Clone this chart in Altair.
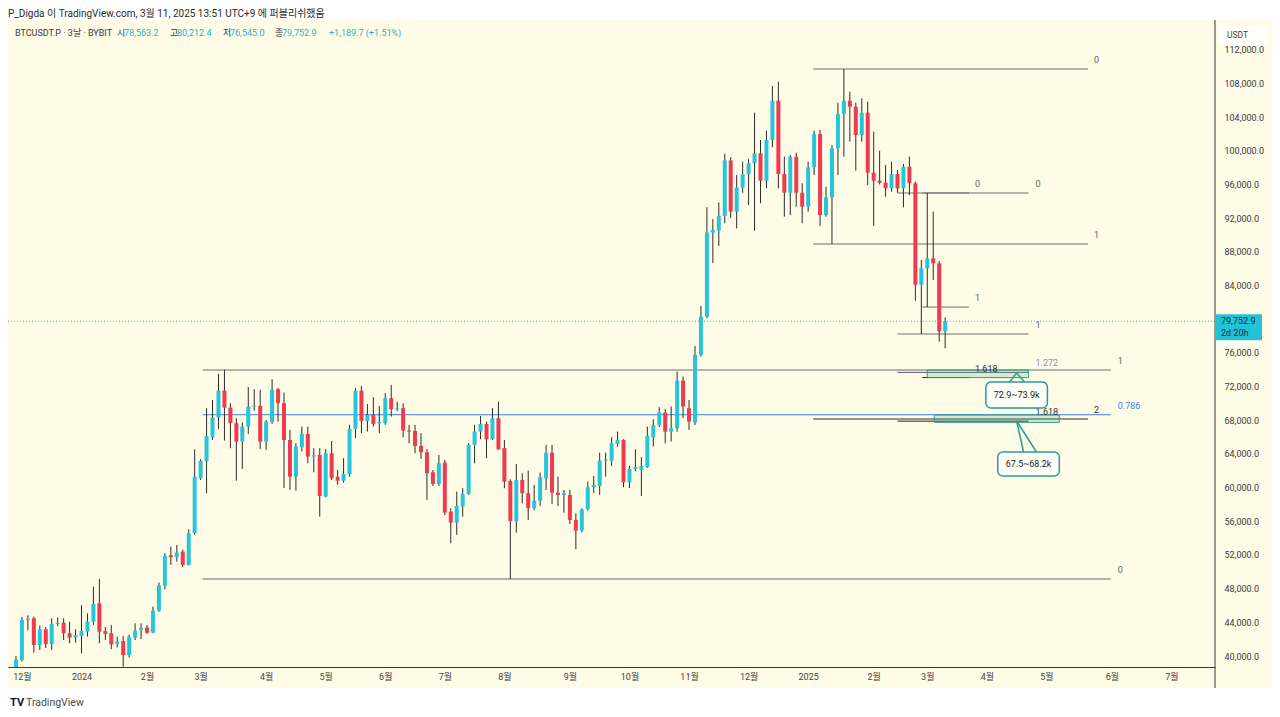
import altair as alt
import pandas as pd

# ---------------- data ----------------
BAR_START = "2023-11-29"  # open time of the first 3-day bar

opens = [37720, 39520, 44280, 44480, 41310, 43170, 41430, 43800, 43960, 42700,
         42180, 42380, 42890, 44080, 46260, 42950, 42700, 41430, 41780, 40120,
         42180, 43090, 43370, 42770, 45390, 48350, 51960, 51720, 52400, 50810,
         54580, 61100, 63160, 65980, 68350, 71520, 69500, 67650, 65470, 67250,
         69630, 69710, 65470, 67770, 71680, 70020, 65660, 61300, 64790, 66380,
         63690, 63880, 58930, 64080, 61300, 60820, 61580, 66970, 71520, 67920,
         68630, 67640, 67640, 70610, 69310, 69430, 66770, 66730, 64950, 64200,
         61820, 60430, 62970, 57150, 55840, 57740, 59250, 65070, 66650, 67560,
         65740, 68240, 64680, 60790, 56040, 60910, 59330, 57550, 58450, 61100,
         64140, 59400, 59130, 59130, 56160, 54890, 57430, 60040, 60200, 63200,
         63200, 65190, 65660, 60630, 62210, 62100, 62440, 65980, 67450, 68910,
         66650, 67050, 72710, 69430, 67720, 75760, 80310, 90290, 90530, 92280,
         98850, 92790, 95620, 97200, 98510, 99700, 96450, 101280, 105950, 97240,
         95020, 99300, 95020, 93360, 98040, 101990, 92370, 94470, 100290, 104370,
         105950, 105240, 101870, 104520, 97400, 96450, 96210, 95540, 97240, 95540,
         98110, 96140, 84100, 86040, 87230, 86640, 78563.2]
highs = [40000, 44640, 44840, 44670, 43600, 43440, 44480, 44560, 44480, 44080,
         43170, 46060, 45070, 48240, 49150, 43440, 43680, 42300, 42380, 42540,
         43880, 43880, 43680, 45860, 48710, 52200, 52990, 53190, 52640, 55050,
         64560, 63370, 69430, 70410, 73500, 73980, 70020, 68240, 67730, 71930,
         71690, 71600, 68040, 72870, 71840, 71280, 66850, 65270, 67250, 67250,
         64680, 64680, 64560, 65540, 62090, 63490, 67450, 71800, 72080, 69940,
         70730, 69700, 71200, 72200, 70220, 70020, 67450, 67450, 66460, 64560,
         62090, 63880, 63290, 57550, 59520, 59920, 65270, 67450, 68510, 67840,
         69430, 70220, 65660, 60990, 62810, 61700, 62010, 60320, 61780, 65070,
         65070, 61300, 59720, 59720, 56950, 57550, 60710, 61390, 64160, 64160,
         65980, 66650, 65740, 62570, 64560, 63610, 67250, 68120, 69550, 69310,
         69630, 73780, 73190, 70410, 76830, 81580, 93310, 91880, 93860, 99640,
         99240, 97120, 98700, 99000, 104520, 101280, 102390, 107690, 108200, 99300,
         99500, 99770, 96140, 98700, 102390, 102470, 95730, 100690, 105710, 109710,
         107020, 105710, 106230, 105830, 102270, 100010, 98310, 98700, 97720, 98430,
         99300, 96340, 87030, 94985, 92770, 86900, 80212.4]
lows = [37600, 39340, 43040, 40390, 40715, 40960, 40715, 43540, 41900, 41510,
        41590, 40320, 42300, 43700, 41510, 41900, 40800, 41030, 38740, 39840,
        41900, 42020, 42620, 42700, 45240, 47920, 50810, 51200, 50570, 50730,
        54380, 60910, 59330, 65660, 66970, 65580, 64680, 60820, 62220, 66380,
        69140, 64560, 64480, 67560, 67840, 59940, 59720, 59640, 64280, 62890,
        61820, 56550, 58860, 60910, 60340, 60590, 61300, 65870, 66460, 66660,
        67250, 66460, 67450, 68430, 69100, 65980, 65270, 64080, 63410, 58540,
        60190, 60190, 56750, 53400, 54380, 56550, 59130, 62890, 65740, 63490,
        65660, 64480, 59920, 49150, 54650, 58140, 56160, 57310, 57820, 59720,
        58060, 57820, 57020, 55680, 52680, 54690, 57270, 59330, 59130, 61300,
        62570, 64870, 60040, 59940, 61940, 59010, 62340, 64870, 67200, 65270,
        65470, 66640, 68240, 66850, 67440, 75560, 80120, 86660, 88710, 91400,
        92040, 90790, 95000, 93560, 90510, 93760, 95540, 100410, 95540, 92170,
        92370, 93360, 91390, 92770, 97120, 91070, 92170, 88930, 97120, 99300,
        101080, 97640, 101080, 95940, 91070, 96000, 94550, 95140, 95020, 93290,
        94750, 82200, 78240, 81440, 84650, 77330, 76545.0]
closes = [39600, 44280, 44430, 41310, 43170, 41430, 43800, 43940, 42700, 42180,
          42500, 42970, 44080, 46180, 42890, 42620, 41390, 41700, 40120, 42300,
          43010, 43370, 42770, 45390, 48400, 51880, 51720, 52280, 50810, 54580,
          61300, 63160, 66140, 68350, 71520, 69500, 67650, 65470, 67250, 69630,
          69750, 65470, 67840, 71600, 70020, 65660, 61300, 64870, 66380, 63690,
          63840, 59010, 64080, 61100, 60820, 61620, 66970, 71520, 67920, 68630,
          67560, 67780, 70610, 69310, 69430, 66770, 66650, 64950, 64200, 61700,
          60430, 62890, 57030, 55840, 57820, 59250, 65070, 66650, 67560, 65740,
          68240, 64560, 60710, 56040, 60910, 59330, 57550, 58450, 61230, 64140,
          59400, 59130, 59330, 56160, 54890, 57430, 60040, 60320, 63200, 63320,
          65270, 65660, 60630, 62210, 62440, 62570, 66140, 67450, 68910, 66650,
          67050, 72710, 69630, 67840, 75760, 80310, 90290, 90610, 92280, 98850,
          92790, 95620, 97200, 98510, 99700, 96450, 101280, 105950, 97240, 95020,
          99300, 95020, 93360, 98040, 101990, 92370, 94470, 100290, 104370, 105950,
          105240, 101870, 104520, 97400, 96450, 96210, 95540, 97240, 95540, 98110,
          96140, 84100, 86040, 87230, 86640, 78563.2, 79752.9]

price_change = "+1,189.7 (+1.51%)"
time_left = "2d 20h"

# Fibonacci tools: anchor prices (level 0 and level 1), levels shown, time span
fib_start = ["2024-03-02", "2025-01-03T14:00", "2025-02-15", "2025-02-27T12:00"]
fib_end = ["2025-06-02T10:00", "2025-05-22", "2025-04-22", "2025-03-23"]
fib_label_at = ["2025-06-05T22:00", "2025-05-25", "2025-04-25T12:00", "2025-03-26"]
fib_p0 = [49145, 109712, 94985, 94985]
fib_p1 = [73965, 88929, 78240, 81440]
fib_levels = [[0, 0.786, 1], [0, 1, 2], [0, 1, 1.272, 1.618], [0, 1, 1.618]]

# target zones and their callouts
zone_start = ["2025-03-02", "2025-03-05T12:00"]
zone_end = ["2025-04-22", "2025-05-07T12:00"]
zone_top = [73965, 68620]
zone_bottom = [73060, 67750]
zone_text = ["72.9~73.9k", "67.5~68.2k"]
callout_left = ["2025-03-31T12:00", "2025-04-06T12:00"]
callout_right = ["2025-05-01T12:00", "2025-05-07T12:00"]
callout_mid = ["2025-04-16", "2025-04-22"]
callout_top = [72540, 64227]
callout_bottom = [69452, 61377]
tail_apex_t = ["2025-04-16", "2025-04-16"]
tail_apex_p = [73609, 67909]
tail_base_l = ["2025-04-12T12:00", "2025-04-19T12:00"]
tail_base_r = ["2025-04-20", "2025-04-26"]

# price-axis labels visible in the reference (80,000 is hidden by the price tag)
y_ticks = [40000, 44000, 48000, 52000, 56000, 60000, 64000, 68000, 72000, 76000,
           84000, 88000, 92000, 96000, 100000, 104000, 108000, 112000]

# ---------------- layout / style ----------------
PLOT_W, PLOT_H = 1207, 647
PX_PER_DAY = 2.002
DAY = 86400000
Y_LO, Y_HI = 38694, 115531
UP, DOWN, WICK = "#26c6da", "#ef3b4f", "#2b2b2b"
BG = "#fefbe7"
TEAL = "#2a9d8f"
FONT = "Roboto, 'Noto Sans CJK KR', sans-serif"


def ms(s):
    return int(pd.Timestamp(s).value // 10**6)


bar_times = pd.date_range(BAR_START, periods=len(opens), freq="3D")
candles = pd.DataFrame({
    "t": [ms(d) for d in bar_times],
    "o": opens, "h": highs, "l": lows, "c": closes,
})
candles["dir"] = ["up" if c >= o else "down" for o, c in zip(opens, closes)]

x_lo = ms(BAR_START) - 3 / PX_PER_DAY * DAY
x_hi = x_lo + PLOT_W / PX_PER_DAY * DAY
xs = alt.Scale(type="utc", domain=[x_lo, x_hi], nice=False)
ys = alt.Scale(domain=[Y_LO, Y_HI], zero=False, nice=False)

# month ticks at the first bar of each month
tick_vals, seen = [], set()
for d in pd.date_range(BAR_START, "2025-07-31", freq="3D"):
    key = (d.year, d.month)
    if key in seen:
        continue
    seen.add(key)
    if key == (2023, 11):
        continue
    tick_vals.append(ms(d))

XA = alt.Axis(
    values=tick_vals,
    labelExpr="utcmonth(datum.value) == 0 ? utcFormat(datum.value, '%Y') : (utcmonth(datum.value) + 1) + '월'",
    grid=False, ticks=False, domain=True, domainColor="#3a3a3a", domainWidth=1,
    labelColor="#444", labelFontSize=9, labelFont=FONT, labelPadding=5,
    labelFlush=False, labelOverlap=False, title=None, zindex=2,
)
YA = alt.Axis(
    values=y_ticks, format=",.1f", orient="right", grid=False, ticks=False,
    domain=False, labelColor="#3a3a3a", labelFontSize=9, labelFont=FONT,
    labelPadding=9, title=None, zindex=2,
)


def X(field):
    return alt.X(field, scale=xs, axis=XA)


def Y(field):
    return alt.Y(field, scale=ys, axis=YA)


one = pd.DataFrame({"k": [0]})

# background pane
bg = alt.Chart(one).mark_rect(color=BG).encode(
    x=alt.value(0), x2=alt.value(1264), y=alt.value(0), y2=alt.value(668))

# fib lines
LINE_COL = {0: "#6e6e6e", 1: "#6e6e6e", 2: "#2e2e2e", 0.786: "#3f7fe0",
            1.272: "#55556a", 1.618: "#1e1e1e"}
TEXT_COL = {0: "#666666", 1: "#666666", 2: "#333333", 0.786: "#4a86d8",
            1.272: "#8e8ea8", 1.618: "#333333"}
rows = []
for i in range(len(fib_p0)):
    for lv in fib_levels[i]:
        rows.append({
            "t0": ms(fib_start[i]), "t1": ms(fib_end[i]), "tl": ms(fib_label_at[i]),
            "p": fib_p0[i] + lv * (fib_p1[i] - fib_p0[i]),
            "lab": f"{lv:g}", "col": LINE_COL[lv], "tcol": TEXT_COL[lv],
        })
fib_df = pd.DataFrame(rows)

fib_lines = alt.Chart(fib_df).mark_rule(strokeWidth=1).encode(
    x=X("t0:T"), x2="t1:T", y=Y("p:Q"),
    color=alt.Color("col:N", scale=None))
fib_text = alt.Chart(fib_df).mark_text(
    align="left", baseline="middle", dy=-9, fontSize=9, font=FONT).encode(
    x=X("tl:T"), y=Y("p:Q"),
    text="lab:N", color=alt.Color("tcol:N", scale=None))

zones = pd.DataFrame({
    "t0": [ms(s) for s in zone_start], "t1": [ms(s) for s in zone_end],
    "top": zone_top, "bot": zone_bottom,
})
zone_rects = alt.Chart(zones).mark_rect(
    fill="#4caf8a", fillOpacity=0.22, stroke=TEAL, strokeWidth=1).encode(
    x=X("t0:T"), x2="t1:T", y=Y("top:Q"), y2="bot:Q")

callouts = pd.DataFrame({
    "l": [ms(s) for s in callout_left], "r": [ms(s) for s in callout_right],
    "m": [ms(s) for s in callout_mid],
    "top": callout_top, "bot": callout_bottom,
    "mid": [(a + b) / 2 for a, b in zip(callout_top, callout_bottom)],
    "txt": zone_text,
})
tails = pd.DataFrame({
    "ta": [ms(s) for s in tail_apex_t] * 2,
    "pa": tail_apex_p * 2,
    "tb": [ms(s) for s in tail_base_l] + [ms(s) for s in tail_base_r],
    "pb": callout_top * 2,
})
callout_box = alt.Chart(callouts).mark_rect(
    fill="#fffef6", stroke=TEAL, strokeWidth=1.5, cornerRadius=5).encode(
    x=X("l:T"), x2="r:T", y=Y("top:Q"), y2="bot:Q")
callout_tail = alt.Chart(tails).mark_rule(color=TEAL, strokeWidth=1.5).encode(
    x=X("ta:T"), x2="tb:T", y=Y("pa:Q"), y2="pb:Q")
callout_text = alt.Chart(callouts).mark_text(
    fontSize=9, font=FONT, color="#222", baseline="middle").encode(
    x=X("m:T"), y=Y("mid:Q"), text="txt:N")

# candles
wicks = alt.Chart(candles).mark_rule(color=WICK, strokeWidth=1, clip=True).encode(
    x=X("t:T"), y=Y("l:Q"), y2="h:Q")
bodies = alt.Chart(candles).mark_bar(size=4, clip=True).encode(
    x=X("t:T"), y=Y("o:Q"), y2="c:Q",
    color=alt.Color("dir:N", scale=alt.Scale(domain=["up", "down"], range=[UP, DOWN]),
                    legend=None))

# last price line and label
PX = (Y_HI - Y_LO) / PLOT_H
last = pd.DataFrame({
    "p": [closes[-1]], "top": [closes[-1] + 7 * PX], "bot": [closes[-1] - 19 * PX],
    "txt": [f"{closes[-1]:,.1f}"], "left": [time_left],
})
price_line = alt.Chart(last).mark_rule(color=UP, strokeDash=[1, 2], strokeWidth=1).encode(
    x=alt.value(0), x2=alt.value(PLOT_W), y=Y("p:Q"))
price_box = alt.Chart(last).mark_rect(color="#22c3d6").encode(
    x=alt.value(PLOT_W + 1), x2=alt.value(PLOT_W + 47), y=Y("top:Q"), y2="bot:Q")
price_txt = alt.Chart(last).mark_text(
    align="left", baseline="middle", fontSize=9, font=FONT, color="#0f2f38").encode(
    x=alt.value(PLOT_W + 6), y=Y("p:Q"), text="txt:N")
left_txt = alt.Chart(last).mark_text(
    align="left", baseline="middle", dy=12, fontSize=9, font=FONT, color="#0f2f38").encode(
    x=alt.value(PLOT_W + 6), y=Y("p:Q"), text="left:N")

# chrome
axis_vline = alt.Chart(one).mark_rule(color="#3a3a3a", strokeWidth=1).encode(
    x=alt.value(PLOT_W), y=alt.value(0), y2=alt.value(668))
usdt_box = alt.Chart(one).mark_rect(fill="#fffffa", cornerRadius=2).encode(
    x=alt.value(1210), x2=alt.value(1260), y=alt.value(5), y2=alt.value(25))
usdt_txt = alt.Chart(one).mark_text(
    align="left", baseline="middle", fontSize=8.5, font=FONT, color="#444").encode(
    x=alt.value(1219), y=alt.value(15), text=alt.value("USDT"))


def label(text, x, y, color, size=9, weight="normal"):
    return alt.Chart(one).mark_text(
        align="left", baseline="middle", fontSize=size, font=FONT,
        color=color, fontWeight=weight).encode(
        x=alt.value(x), y=alt.value(y), text=alt.value(text))


CY = "#1fb5c9"
DK = "#3a3a3a"
header = [
    label("P_Digda 이 TradingView.com, 3월 11, 2025 13:51 UTC+9 에 퍼블리쉬했음", 0, -6, "#2a2a2a", 10),
    label("BTCUSDT.P · 3날 · BYBIT", 7, 13, DK),
    label("시", 109, 13, DK), label(f"{opens[-1]:,.1f}", 116, 13, CY),
    label("고", 162, 13, DK), label(f"{highs[-1]:,.1f}", 169, 13, CY),
    label("저", 215, 13, DK), label(f"{lows[-1]:,.1f}", 222, 13, CY),
    label("종", 267, 13, DK), label(f"{closes[-1]:,.1f}", 274, 13, CY),
    label(price_change, 321, 13, CY),
    label("TV", 2, 683, "#131722", 11, "bold"),
    label("TradingView", 18, 683, "#4a4a4a", 10.5),
]

chart = alt.layer(
    bg, fib_lines, zone_rects, wicks, bodies, price_line,
    fib_text, callout_tail, callout_box, callout_text,
    axis_vline, price_box, price_txt, left_txt, usdt_box, usdt_txt,
    *header,
).properties(
    width=PLOT_W, height=PLOT_H,
    autosize=alt.AutoSizeParams(type="none"),
    padding={"left": 0, "top": 12, "right": 57, "bottom": 44},
    background="white",
).configure_view(stroke=None)

chart.save("out.html", embed_options={"renderer": "svg", "actions": False})
